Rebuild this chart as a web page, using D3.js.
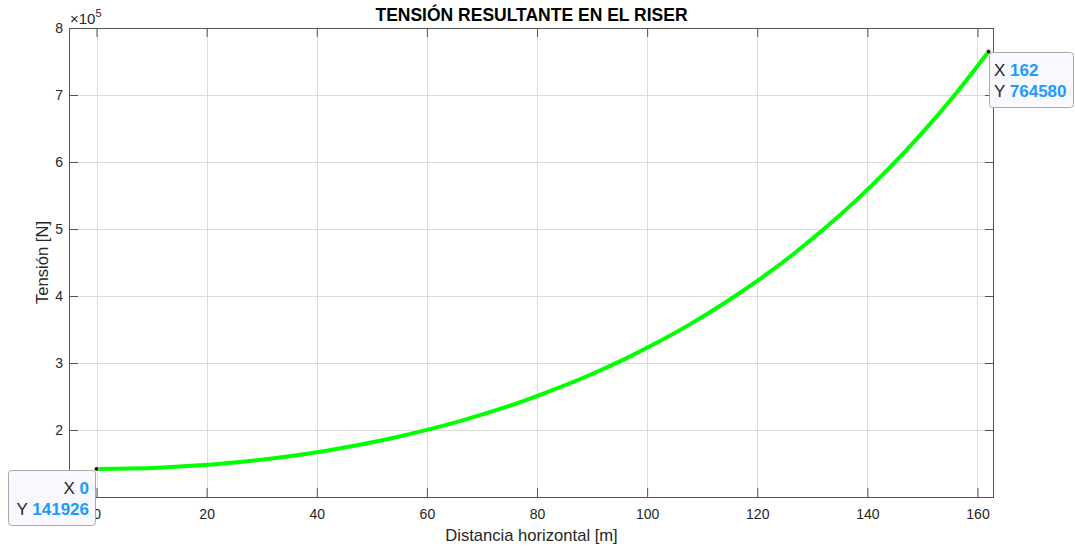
<!DOCTYPE html>
<html>
<head>
<meta charset="utf-8">
<script src="https://cdn.jsdelivr.net/npm/d3@7"></script>
<style>
  html, body { margin: 0; padding: 0; background: #fff; }
  svg { display: block; font-family: "Liberation Sans", Arial, Helvetica, sans-serif; }
</style>
</head>
<body>
<svg id="chart" width="1075" height="548"></svg>
<script>
// Horizontal distance along the riser [m]
const distance = [0, 6, 12, 18, 24, 30, 36, 42, 48, 54, 60, 66, 72, 78, 84, 90,
  96, 102, 108, 114, 120, 126, 132, 138, 144, 150, 156, 162];
// Resultant tension [N]
const tension = [141926, 142472, 144116, 146869, 150753, 155797, 162042, 169534,
  178330, 188503, 200122, 213284, 228089, 244649, 263095, 283565, 306217, 331227,
  358787, 389117, 422446, 459023, 499114, 543065, 591197, 643879, 701521, 764580];
const xTicks = [0, 20, 40, 60, 80, 100, 120, 140, 160];
const yTicks = [1, 2, 3, 4, 5, 6, 7, 8];       // in units of 1e5
const yExponent = 5;

const svg = d3.select("#chart");
const pLeft = 69, pRight = 994, pTop = 28, pBottom = 497;

const x = d3.scaleLinear().domain([-5, 163]).range([pLeft, pRight]);
const y = d3.scaleLinear().domain([1e5, 8e5]).range([pBottom, pTop]);

const axisColor = "#555";
const textColor = "#262626";
const tickLen = 9;

// grid
const grid = svg.append("g");
grid.selectAll(".gx").data(xTicks).join("line")
  .attr("x1", d => Math.round(x(d)) + 0.5).attr("x2", d => Math.round(x(d)) + 0.5)
  .attr("y1", pTop).attr("y2", pBottom)
  .attr("stroke", "#dcdcdc").attr("stroke-width", 1);
grid.selectAll(".gy").data(yTicks).join("line")
  .attr("y1", d => Math.round(y(d * 1e5)) + 0.5).attr("y2", d => Math.round(y(d * 1e5)) + 0.5)
  .attr("x1", pLeft).attr("x2", pRight)
  .attr("stroke", "#dcdcdc").attr("stroke-width", 1);

// axes with inward ticks; the lowest y label sits under the first data tip
const xAxisB = d3.axisBottom(x).tickValues(xTicks).tickSizeInner(-tickLen).tickSizeOuter(0).tickPadding(12).tickFormat(d3.format("d"));
const xAxisT = d3.axisTop(x).tickValues(xTicks).tickSizeInner(-tickLen).tickSizeOuter(0).tickFormat("");
const ys = d3.scaleLinear().domain([1, 8]).range([pBottom, pTop]);
const yAxisL = d3.axisLeft(ys).tickValues(yTicks).tickSizeInner(-tickLen).tickSizeOuter(0).tickPadding(6)
  .tickFormat(d => d === 1 ? "" : d3.format("d")(d));
const yAxisR = d3.axisRight(ys).tickValues(yTicks).tickSizeInner(-tickLen).tickSizeOuter(0).tickFormat("");

function style(g) {
  g.select(".domain").remove();
  g.selectAll("line").attr("stroke", axisColor);
  g.selectAll("text").attr("fill", textColor).style("font-size", "14px")
    .style("font-family", "'Liberation Sans', Arial, sans-serif");
}
svg.append("g").attr("transform", `translate(0,${pBottom})`).call(xAxisB).call(style);
svg.append("g").attr("transform", `translate(0,${pTop})`).call(xAxisT).call(style);
svg.append("g").attr("transform", `translate(${pLeft},0)`).call(yAxisL).call(style);
svg.append("g").attr("transform", `translate(${pRight},0)`).call(yAxisR).call(style);

// box
svg.append("rect").attr("x", pLeft + 0.5).attr("y", pTop + 0.5)
  .attr("width", pRight - pLeft - 1).attr("height", pBottom - pTop)
  .attr("fill", "none").attr("stroke", axisColor).attr("stroke-width", 1);

// tension curve
const pts = distance.map((d, i) => [d, tension[i]]);
const line = d3.line().x(d => x(d[0])).y(d => y(d[1])).curve(d3.curveMonotoneX);
svg.append("path").datum(pts).attr("d", line)
  .attr("fill", "none").attr("stroke", "#00ff00").attr("stroke-width", 4)
  .attr("stroke-linejoin", "round");

// exponent label
const ex = svg.append("text").attr("x", pLeft + 1).attr("y", 24)
  .attr("fill", textColor).style("font-size", "15px");
ex.append("tspan").text("\u00d710");
ex.append("tspan").attr("dy", -7).style("font-size", "11px").text(yExponent);

// title and axis labels
svg.append("text").attr("x", (pLeft + pRight) / 2).attr("y", 21)
  .attr("text-anchor", "middle").attr("font-weight", "bold")
  .style("font-size", "17.5px").attr("fill", "#000")
  .text("TENSIÓN RESULTANTE EN EL RISER");
svg.append("text").attr("x", (pLeft + pRight) / 2).attr("y", 541)
  .attr("text-anchor", "middle").style("font-size", "16.6px").attr("fill", textColor)
  .text("Distancia horizontal [m]");
svg.append("text").attr("transform", `translate(48,${(pTop + pBottom) / 2}) rotate(-90)`)
  .attr("text-anchor", "middle").style("font-size", "16.6px").attr("fill", textColor)
  .text("Tensión [N]");

// data tips at the two ends of the curve
function dataTip(i, bx, by, bw, bh, align) {
  const px = x(distance[i]), py = y(tension[i]);
  svg.append("rect").attr("x", bx + 0.5).attr("y", by + 0.5).attr("width", bw).attr("height", bh)
    .attr("rx", 3).attr("fill", "#f8f8fe").attr("stroke", "#a8a8a8").attr("stroke-width", 1);
  const tx = align === "end" ? bx + bw - 6 : bx + 5;
  const rows = [["X ", distance[i]], ["Y ", tension[i]]];
  rows.forEach((r, k) => {
    const t = svg.append("text").attr("x", tx).attr("y", by + 24 + k * 21)
      .attr("text-anchor", align).style("font-size", "17px");
    t.append("tspan").attr("fill", textColor).text(r[0]);
    t.append("tspan").attr("fill", "#1a9bff").attr("font-weight", "bold").text(r[1]);
  });
  svg.append("circle").attr("cx", px).attr("cy", py).attr("r", 2.2)
    .attr("fill", "#111").attr("stroke", "#f0f0c0").attr("stroke-width", 0.6);
}
dataTip(0, 8, 470, 87, 55, "end");
dataTip(tension.length - 1, 989, 52, 84, 55, "start");
</script>
</body>
</html>
